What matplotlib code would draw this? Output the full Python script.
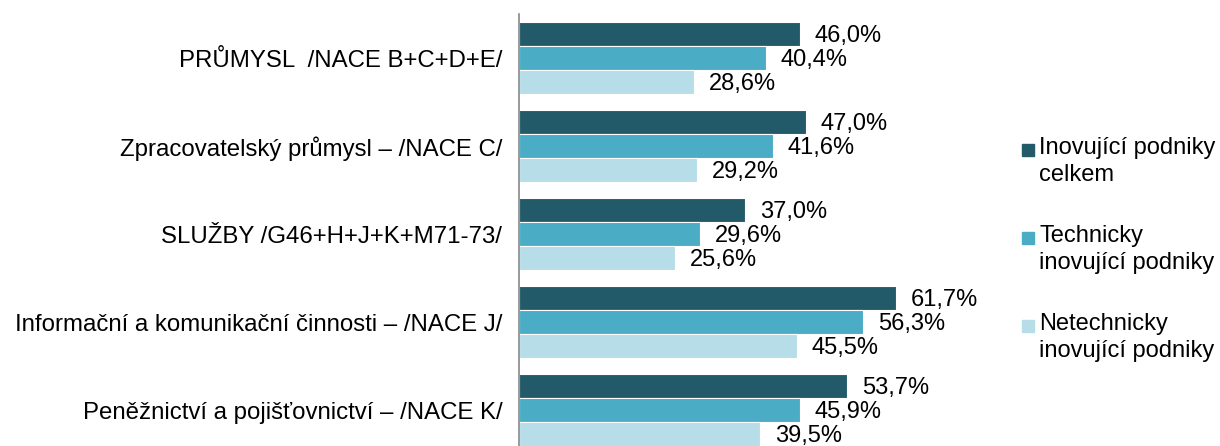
import matplotlib.pyplot as plt
import matplotlib.patches as mpatches
import numpy as np

plt.rcParams['font.family'] = ['Liberation Sans', 'DejaVu Sans']

categories = ['PRŮMYSL  /NACE B+C+D+E/',
              'Zpracovatelský průmysl – /NACE C/',
              'SLUŽBY /G46+H+J+K+M71-73/',
              'Informační a komunikační činnosti – /NACE J/',
              'Peněžnictví a pojišťovnictví – /NACE K/']
celkem = [46.0, 47.0, 37.0, 61.7, 53.7]
technicky = [40.4, 41.6, 29.6, 56.3, 45.9]
netechnicky = [28.6, 29.2, 25.6, 45.5, 39.5]
series_names = ['Inovující podniky\ncelkem',
                'Technicky\ninovující podniky',
                'Netechnicky\ninovující podniky']
colors = ['#235A6A', '#4BACC6', '#B7DEE8']

W, H = 1220, 446
fig = plt.figure(figsize=(W / 100, H / 100), dpi=100)
ax = fig.add_axes([519 / W, -8 / H, 481 / W, 440 / H])

y = np.arange(len(categories))
bw = 0.275
fs = 17
for i, (vals, c) in enumerate(zip([celkem, technicky, netechnicky], colors)):
    pos = y + (i - 1) * bw
    ax.barh(pos, vals, height=bw, color=c, edgecolor='white', linewidth=0.8)
    for p, v in zip(pos, vals):
        ax.text(v + 2.4, p + 0.02, f'{v:.1f}%'.replace('.', ','),
                va='center', ha='left', fontsize=fs, color='black')

ax.set_xlim(0, 78.7)
ax.set_ylim(len(categories) - 0.5, -0.5)
ax.set_yticks(y)
ax.set_yticklabels(categories, fontsize=17.3)
ax.tick_params(axis='y', length=0, pad=12)
ax.set_xticks([])
for s in ['top', 'right', 'bottom']:
    ax.spines[s].set_visible(False)
ax.spines['left'].set_color('#888888')
ax.spines['left'].set_linewidth(1.2)

# legend drawn by hand so the square sits by the first line
leg_y = [150, 238, 326]
for name, c, ly in zip(series_names, colors, leg_y):
    fig.patches.append(mpatches.Rectangle((1022 / W, 1 - (ly + 6) / H), 12 / W, 12 / H,
                                          transform=fig.transFigure, color=c))
    fig.text(1039 / W, 1 - (ly - 13) / H, name, fontsize=fs, va='top', ha='left',
             linespacing=1.3)

fig.savefig('out.png', dpi=100)
